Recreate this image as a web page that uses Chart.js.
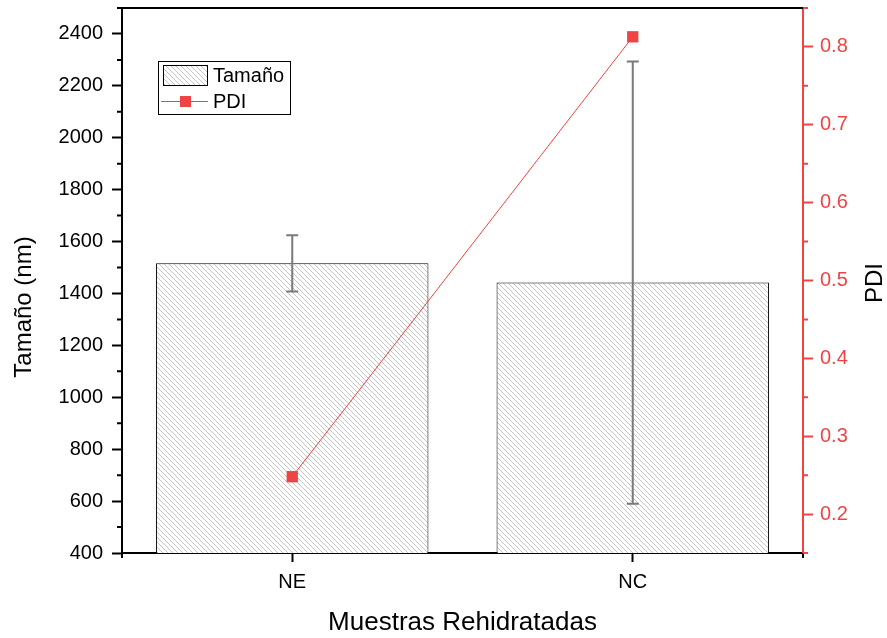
<!DOCTYPE html>
<html lang="es">

<head>
    <meta charset="UTF-8">
    <title>Tamaño y PDI - Muestras Rehidratadas</title>
    <script src="https://cdn.jsdelivr.net/npm/chart.js@4.4.1/dist/chart.umd.min.js"></script>
    <style>
        html, body { margin: 0; padding: 0; background: #fff; }
        #chartBox { width: 887px; height: 638px; }
    </style>
</head>

<body>
    <div id="chartBox">
        <canvas id="sizeChart" width="887" height="638"></canvas>
    </div>

    <script>
        // data
        const categories = ['NE', 'NC'];
        const tamano = [1516, 1442];        // nm
        const tamanoErr = [108, 852];       // +/- nm
        const pdi = [0.248, 0.813];

        // axis ticks
        const leftTicks = [400, 600, 800, 1000, 1200, 1400, 1600, 1800, 2000, 2200, 2400];
        const leftMinor = [500, 700, 900, 1100, 1300, 1500, 1700, 1900, 2100, 2300, 2500];
        const rightTicks = [0.2, 0.3, 0.4, 0.5, 0.6, 0.7, 0.8];
        const rightMinor = [0.15, 0.25, 0.35, 0.45, 0.55, 0.65, 0.75, 0.85];

        const RED = 'rgb(240, 68, 68)';
        const FONT = "'Liberation Sans', Arial, sans-serif";

        function makeHatch() {
            const n = 5;
            const c = document.createElement('canvas');
            c.width = n;
            c.height = n;
            const g = c.getContext('2d');
            g.fillStyle = '#fff';
            g.fillRect(0, 0, n, n);
            g.strokeStyle = '#c4c4c4';
            g.lineWidth = 1;
            g.beginPath();
            g.moveTo(-1, -1); g.lineTo(n + 1, n + 1);
            g.moveTo(-1, n - 1); g.lineTo(1, n + 1);
            g.moveTo(n - 1, -1); g.lineTo(n + 1, 1);
            g.stroke();
            return document.getElementById('sizeChart').getContext('2d').createPattern(c, 'repeat');
        }
        const hatch = makeHatch();

        // error bars, minor ticks, top frame, y titles, legend
        const extras = {
            id: 'extras',
            afterDatasetsDraw(chart) {
                const ctx = chart.ctx;
                const y = chart.scales.y;
                const meta = chart.getDatasetMeta(0);
                ctx.save();
                ctx.strokeStyle = '#7a7a7a';
                ctx.lineWidth = 2;
                meta.data.forEach((bar, i) => {
                    const top = y.getPixelForValue(tamano[i] + tamanoErr[i]);
                    const bot = y.getPixelForValue(tamano[i] - tamanoErr[i]);
                    ctx.beginPath();
                    ctx.moveTo(bar.x, top); ctx.lineTo(bar.x, bot);
                    ctx.moveTo(bar.x - 6, top); ctx.lineTo(bar.x + 6, top);
                    ctx.moveTo(bar.x - 6, bot); ctx.lineTo(bar.x + 6, bot);
                    ctx.stroke();
                });
                ctx.restore();
            },
            afterDraw(chart) {
                const ctx = chart.ctx;
                const area = chart.chartArea;
                const y = chart.scales.y;
                const y1 = chart.scales.y1;
                ctx.save();
                // minor ticks
                ctx.lineWidth = 2;
                ctx.strokeStyle = '#000';
                ctx.beginPath();
                leftMinor.forEach(v => {
                    const p = y.getPixelForValue(v);
                    ctx.moveTo(area.left - 5, p); ctx.lineTo(area.left, p);
                });
                ctx.moveTo(area.left, area.bottom); ctx.lineTo(area.left, area.bottom + 5);
                ctx.moveTo(area.right, area.bottom); ctx.lineTo(area.right, area.bottom + 5);
                ctx.stroke();
                ctx.strokeStyle = RED;
                ctx.beginPath();
                rightMinor.forEach(v => {
                    const p = y1.getPixelForValue(v);
                    ctx.moveTo(area.right, p); ctx.lineTo(area.right + 5, p);
                });
                ctx.stroke();
                // top frame
                ctx.strokeStyle = '#000';
                ctx.beginPath();
                ctx.moveTo(area.left - 1, area.top); ctx.lineTo(area.right, area.top);
                ctx.stroke();

                // y axis titles, both read bottom to top
                ctx.fillStyle = '#000';
                ctx.font = '24px ' + FONT;
                ctx.textAlign = 'center';
                ctx.textBaseline = 'middle';
                ctx.save();
                ctx.translate(24, 307);
                ctx.rotate(-Math.PI / 2);
                ctx.fillText('Tamaño (nm)', 0, 0);
                ctx.restore();
                ctx.save();
                ctx.translate(875, 283);
                ctx.rotate(-Math.PI / 2);
                ctx.fillText('PDI', 0, 0);
                ctx.restore();

                // legend
                ctx.textAlign = 'left';
                ctx.lineWidth = 1;
                ctx.strokeStyle = '#000';
                ctx.fillStyle = '#fff';
                ctx.fillRect(158.5, 61.5, 132, 53);
                ctx.strokeRect(158.5, 61.5, 132, 53);
                ctx.fillStyle = hatch;
                ctx.fillRect(163.5, 65.5, 44, 20);
                ctx.strokeRect(163.5, 65.5, 44, 20);
                ctx.strokeStyle = RED;
                ctx.beginPath();
                ctx.moveTo(161, 101.5); ctx.lineTo(208, 101.5);
                ctx.stroke();
                ctx.fillStyle = RED;
                ctx.fillRect(180, 96, 11, 11);
                ctx.fillStyle = '#000';
                ctx.font = '20px ' + FONT;
                ctx.fillText('Tamaño', 213, 76);
                ctx.fillText('PDI', 213, 102);
                ctx.restore();
            }
        };

        const ctx = document.getElementById('sizeChart').getContext('2d');
        const chart = new Chart(ctx, {
            type: 'bar',
            data: {
                labels: categories,
                datasets: [{
                    label: 'Tamaño',
                    data: tamano,
                    yAxisID: 'y',
                    backgroundColor: hatch,
                    borderColor: '#000',
                    borderWidth: 1,
                    barPercentage: 1,
                    categoryPercentage: 0.8,
                    order: 2
                }, {
                    type: 'line',
                    label: 'PDI',
                    data: pdi,
                    yAxisID: 'y1',
                    borderColor: RED,
                    backgroundColor: RED,
                    borderWidth: 1,
                    pointStyle: 'rect',
                    pointRadius: 8,
                    pointBorderWidth: 0,
                    tension: 0,
                    order: 1
                }]
            },
            options: {
                responsive: false,
                animation: false,
                devicePixelRatio: 1,
                layout: { padding: { top: 5, left: 0, right: 0, bottom: 0 } },
                plugins: {
                    legend: { display: false },
                    tooltip: { enabled: false }
                },
                scales: {
                    x: {
                        offset: true,
                        grid: {
                            offset: false, drawOnChartArea: false,
                            tickLength: 9, tickWidth: 2, tickColor: '#000'
                        },
                        border: { color: '#000', width: 2 },
                        ticks: { color: '#000', font: { family: FONT, size: 20 }, padding: 8 },
                        title: {
                            display: true, text: 'Muestras Rehidratadas', color: '#000',
                            font: { family: FONT, size: 26 }, padding: { top: 14, bottom: 0 }
                        },
                        afterFit: s => { s.height = 85; }
                    },
                    y: {
                        position: 'left',
                        min: 400,
                        max: 2500,
                        afterBuildTicks: s => { s.ticks = leftTicks.map(v => ({ value: v })); },
                        grid: { drawOnChartArea: false, tickLength: 10, tickWidth: 2, tickColor: '#000' },
                        border: { color: '#000', width: 2 },
                        ticks: {
                            color: '#000', font: { family: FONT, size: 20 }, padding: 9,
                            callback: v => String(v)
                        },
                        afterFit: s => { s.width = 122; s.paddingTop = 0; s.paddingBottom = 0; }
                    },
                    y1: {
                        position: 'right',
                        min: 0.15,
                        max: 0.85,
                        afterBuildTicks: s => { s.ticks = rightTicks.map(v => ({ value: v })); },
                        grid: { drawOnChartArea: false, tickLength: 10, tickWidth: 2, tickColor: RED },
                        border: { color: RED, width: 2 },
                        ticks: {
                            color: RED, font: { family: FONT, size: 20 }, padding: 7,
                            callback: v => v.toFixed(1)
                        },
                        afterFit: s => { s.width = 84; s.paddingTop = 0; s.paddingBottom = 0; }
                    }
                }
            },
            plugins: [extras]
        });
    </script>
</body>

</html>
